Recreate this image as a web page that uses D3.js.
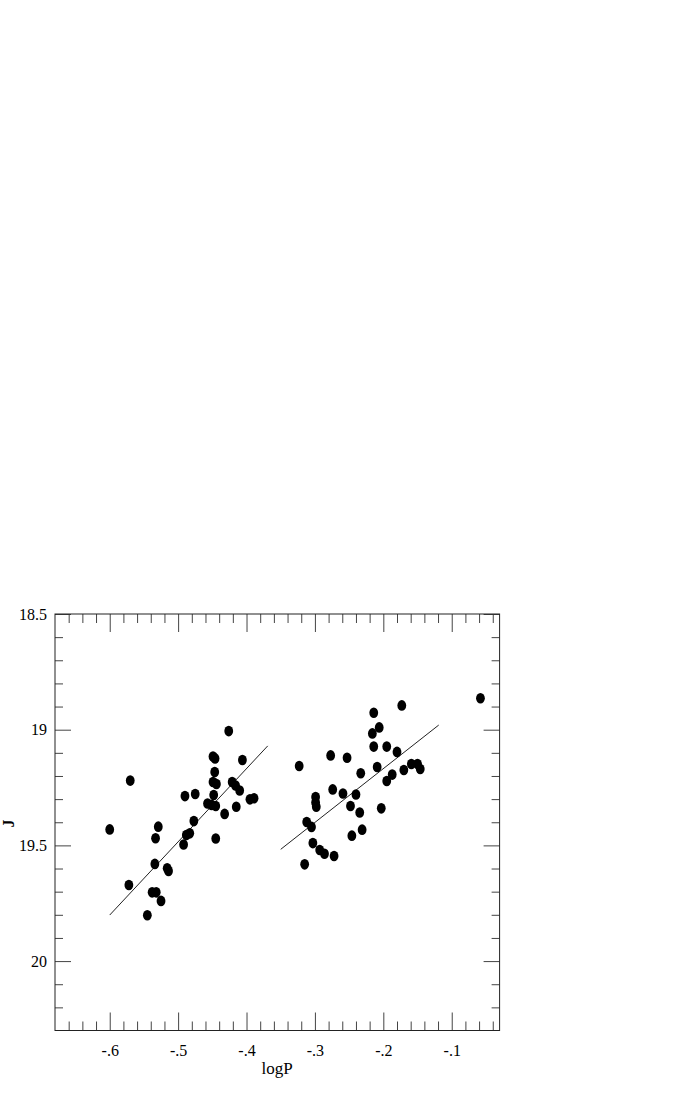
<!DOCTYPE html>
<html>
<head>
<meta charset="utf-8">
<script src="https://cdn.jsdelivr.net/npm/d3@7"></script>
<style>
  body { margin: 0; background: #fff; }
</style>
</head>
<body>
<div id="chart"></div>
<script>
// short-period group (left)
var leftLogP = [-0.426, -0.449, -0.446, -0.406, -0.4465, -0.449, -0.444, -0.421, -0.416, -0.410,
  -0.490, -0.475, -0.448, -0.457, -0.451, -0.445, -0.415, -0.395, -0.389, -0.432,
  -0.477, -0.483, -0.488, -0.445, -0.492, -0.570, -0.600, -0.529, -0.533, -0.534,
  -0.516, -0.514, -0.572, -0.538, -0.532, -0.525, -0.545];
var leftJ = [19.006, 19.116, 19.124, 19.131, 19.183, 19.226, 19.235, 19.226, 19.241, 19.263,
  19.287, 19.278, 19.282, 19.319, 19.325, 19.330, 19.333, 19.301, 19.296, 19.364,
  19.395, 19.448, 19.455, 19.470, 19.496, 19.220, 19.431, 19.419, 19.469, 19.580,
  19.599, 19.611, 19.671, 19.703, 19.703, 19.740, 19.802];

// long-period group (right)
var rightLogP = [-0.058, -0.173, -0.214, -0.206, -0.216, -0.214, -0.195, -0.180, -0.323, -0.277,
  -0.253, -0.233, -0.209, -0.170, -0.159, -0.150, -0.146, -0.187, -0.195, -0.274,
  -0.259, -0.240, -0.299, -0.299, -0.298, -0.248, -0.2345, -0.203, -0.312, -0.305,
  -0.231, -0.246, -0.303, -0.293, -0.286, -0.272, -0.315];
var rightJ = [18.864, 18.895, 18.927, 18.990, 19.016, 19.073, 19.073, 19.096, 19.157, 19.111,
  19.121, 19.188, 19.161, 19.174, 19.148, 19.148, 19.170, 19.194, 19.222, 19.258,
  19.276, 19.280, 19.291, 19.315, 19.333, 19.330, 19.358, 19.340, 19.399, 19.420,
  19.432, 19.458, 19.490, 19.520, 19.536, 19.546, 19.582];

// fitted relations, endpoints
var leftFitLogP = [-0.600, -0.369];
var leftFitJ = [19.801, 19.070];
var rightFitLogP = [-0.350, -0.119];
var rightFitJ = [19.517, 18.980];

var xTicks = [-0.6, -0.5, -0.4, -0.3, -0.2, -0.1];
var xTickLabels = ["-.6", "-.5", "-.4", "-.3", "-.2", "-.1"];
var yTicks = [18.5, 19, 19.5, 20];
var yTickLabels = ["18.5", "19", "19.5", "20"];

var FONT = "'Liberation Serif', 'DejaVu Serif', serif";
var W = 680, H = 1100;
var plotL = 55, plotR = 499.6, plotT = 614, plotB = 1030.5;

var svg = d3.select("#chart").append("svg")
  .attr("width", W)
  .attr("height", H);

var x = d3.scaleLinear().domain([-0.68, -0.03]).range([plotL, plotR]);
var y = d3.scaleLinear().domain([18.5, 20.3]).range([plotT, plotB]);

var xMinor = d3.range(-33, -1).map(function(i) { return i * 0.02; })
  .filter(function(v) { return Math.abs(v * 10 - Math.round(v * 10)) > 1e-6; });
var yMinor = d3.range(186, 203).map(function(i) { return i / 10; })
  .filter(function(v) { return Math.abs(v * 2 - Math.round(v * 2)) > 1e-6; });

function tickAxis(axis, pos) {
  var a = svg.append("g").attr("transform", pos).call(axis);
  a.attr("font-family", FONT);
  a.select(".domain").remove();
  a.selectAll(".tick line").attr("stroke", "#444").attr("stroke-width", 1);
  a.selectAll(".tick text").style("font-family", FONT).attr("fill", "#000");
  return a;
}

// bottom ticks + labels
var xb = tickAxis(d3.axisBottom(x).tickValues(xTicks).tickSize(-18).tickPadding(14)
  .tickFormat(function(d, i) { return xTickLabels[i]; }), "translate(0," + plotB + ")");
xb.selectAll("text").attr("font-size", 16).attr("dy", "0.71em").attr("y", 14);
tickAxis(d3.axisBottom(x).tickValues(xMinor).tickSize(-9).tickFormat(""), "translate(0," + plotB + ")");

// top ticks
tickAxis(d3.axisTop(x).tickValues(xTicks).tickSize(-18).tickFormat(""), "translate(0," + plotT + ")");
tickAxis(d3.axisTop(x).tickValues(xMinor).tickSize(-9).tickFormat(""), "translate(0," + plotT + ")");

// left ticks + labels
var yl = tickAxis(d3.axisLeft(y).tickValues(yTicks).tickSize(-16)
  .tickFormat(function(d, i) { return yTickLabels[i]; }), "translate(" + plotL + ",0)");
yl.selectAll("text").attr("font-size", 16).attr("x", -8);
tickAxis(d3.axisLeft(y).tickValues(yMinor).tickSize(-8).tickFormat(""), "translate(" + plotL + ",0)");

// right ticks
tickAxis(d3.axisRight(y).tickValues(yTicks).tickSize(-16).tickFormat(""), "translate(" + plotR + ",0)");
tickAxis(d3.axisRight(y).tickValues(yMinor).tickSize(-8).tickFormat(""), "translate(" + plotR + ",0)");

// frame
svg.append("rect")
  .attr("x", plotL)
  .attr("y", plotT)
  .attr("width", plotR - plotL)
  .attr("height", plotB - plotT)
  .attr("fill", "none")
  .attr("stroke", "#222")
  .attr("stroke-width", 1);

// fit lines
var line = d3.line()
  .x(function(d) { return x(d[0]); })
  .y(function(d) { return y(d[1]); });

[[leftFitLogP, leftFitJ], [rightFitLogP, rightFitJ]].forEach(function(f) {
  svg.append("path")
    .datum(d3.zip(f[0], f[1]))
    .attr("d", line)
    .attr("fill", "none")
    .attr("stroke", "#222")
    .attr("stroke-width", 1);
});

// points
var pts = d3.zip(leftLogP, leftJ).concat(d3.zip(rightLogP, rightJ));
svg.selectAll(".pt")
  .data(pts)
  .enter().append("ellipse")
  .attr("class", "pt")
  .attr("cx", function(d) { return x(d[0]); })
  .attr("cy", function(d) { return y(d[1]); })
  .attr("rx", 4.4)
  .attr("ry", 5.3)
  .attr("fill", "#000");

// axis titles
svg.append("text")
  .attr("x", 277)
  .attr("y", plotB + 43)
  .attr("text-anchor", "middle")
  .attr("font-size", 17)
  .style("font-family", FONT)
  .text("logP");

svg.append("text")
  .attr("transform", "translate(14," + y(19.405) + ") rotate(-90)")
  .attr("text-anchor", "middle")
  .attr("font-size", 16)
  .attr("font-weight", "bold")
  .style("font-family", FONT)
  .text("J");
</script>
</body>
</html>
